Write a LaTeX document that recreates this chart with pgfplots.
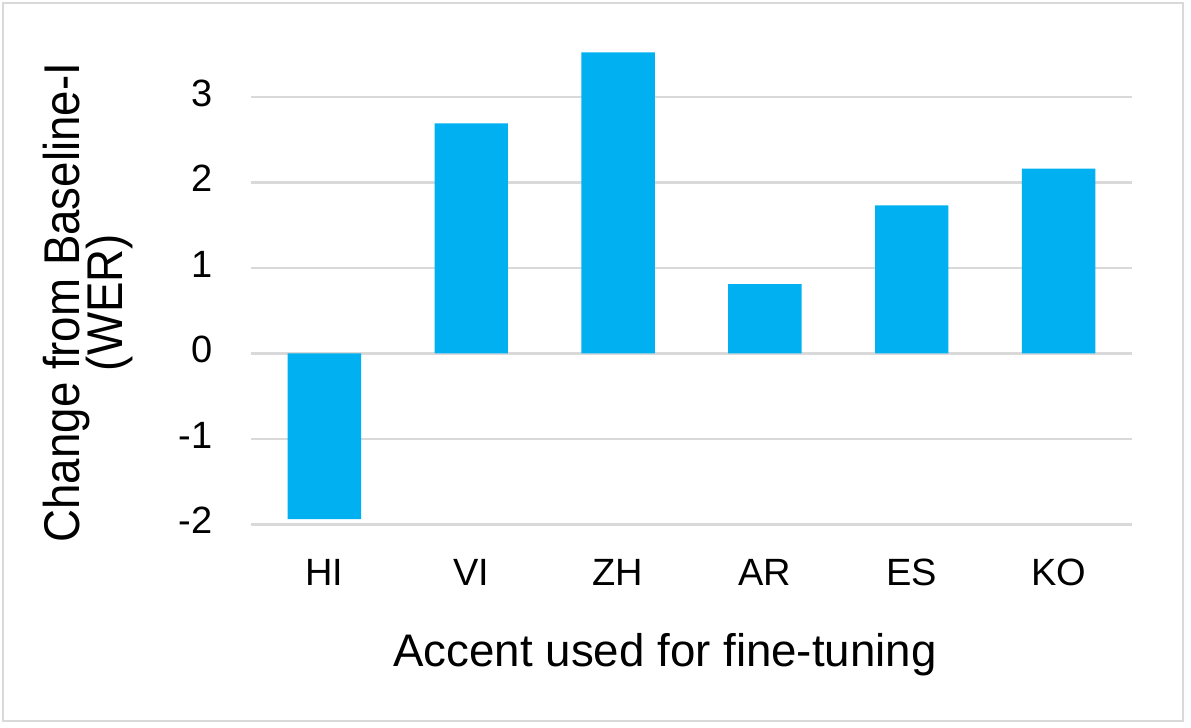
\documentclass[border=0pt]{standalone}
\usepackage{fontspec}
\setmainfont{Liberation Sans}
\usepackage{pgfplots}
\pgfplotsset{compat=1.18}
\definecolor{barblue}{HTML}{00B0F0}
\definecolor{gridgray}{HTML}{D9D9D9}

\begin{document}
\lineskiplimit=-20pt
\begin{tikzpicture}
% picture is 1191 x 728 px, 1 px = 0.3bp
\useasboundingbox (0,0) rectangle (357.3bp,218.4bp);
\draw[gridgray, line width=0.75bp] (0.9bp,2.1bp) rectangle (354.9bp,217.5bp);
\begin{axis}[
    at={(75.3bp,61.11bp)}, anchor=south west,
    scale only axis,
    width=264.3bp, height=143.64bp,
    xmin=-0.5, xmax=5.5,
    ymin=-2, ymax=3.6,
    xtick={0,1,2,3,4,5},
    xticklabels={HI,VI,ZH,AR,ES,KO},
    ytick={-2,-1,0,1,2,3},
    yticklabels={-2,-1,0,1,2,3},
    axis line style={draw=none},
    tick style={draw=none},
    ymajorgrids,
    major grid style={draw=gridgray, line width=0.75bp},
    ticklabel style={font=\fontsize{11.4bp}{13bp}\selectfont, inner sep=0pt},
    yticklabel style={anchor=east, xshift=-11.4bp, yshift=1.1bp},
    xticklabel style={anchor=base, yshift=-18.5bp},
    xlabel={Accent used for fine-tuning},
    xlabel style={at={(axis description cs:0.47,-0.298)}, anchor=base,
        inner sep=0pt, font=\fontsize{13.7bp}{16bp}\selectfont},
    ylabel={Change from Baseline-I\\(WER)},
    ylabel style={at={(axis description cs:-0.2372,0.463)}, anchor=north,
        inner sep=0pt, align=center, yscale=1.1,
        font=\fontsize{13.7bp}{11.8bp}\selectfont},
]
\addplot[ybar, bar width=0.5, fill=barblue, draw=none] coordinates {
    (0,-1.94) (1,2.69) (2,3.52) (3,0.81) (4,1.73) (5,2.16)
};
\end{axis}
\end{tikzpicture}
\end{document}
